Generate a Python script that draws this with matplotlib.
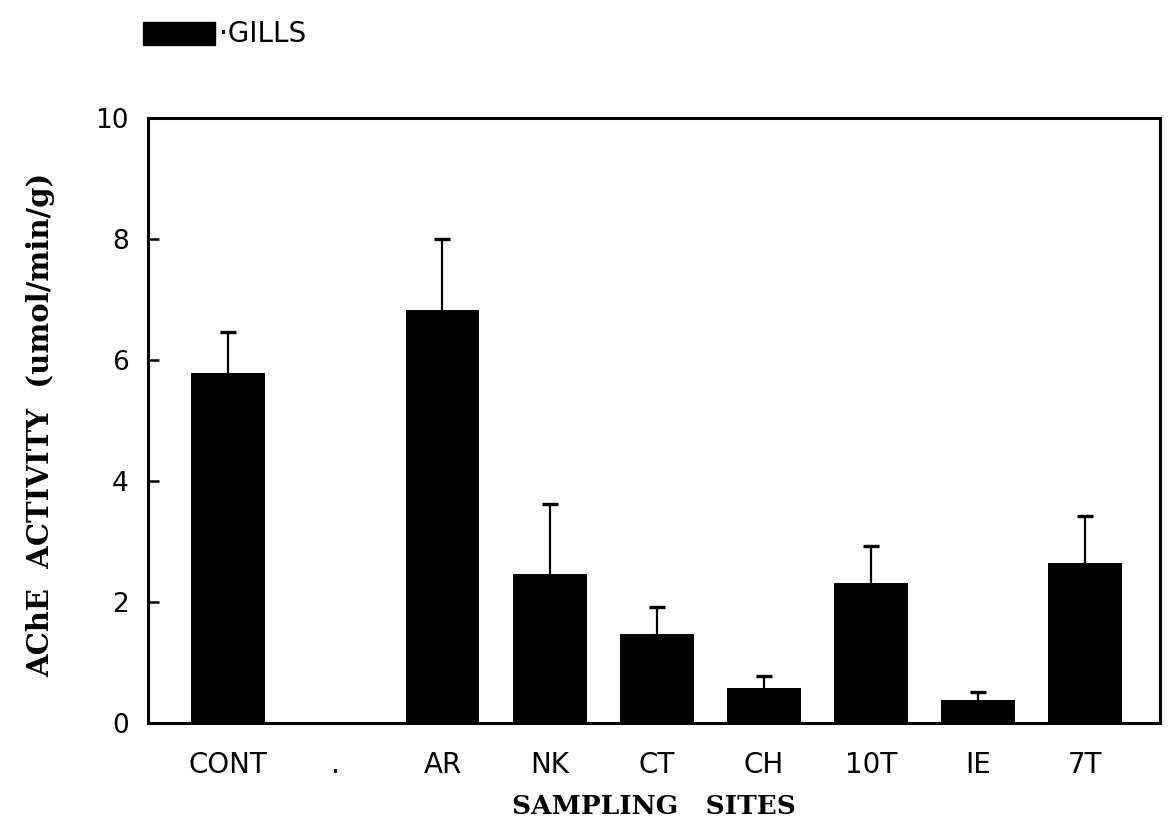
import numpy as np
import matplotlib
matplotlib.use("Agg")
import matplotlib.pyplot as plt
from matplotlib.patches import Rectangle

# data
sites = ["CONT", ".", "AR", "NK", "CT", "CH", "10T", "IE", "7T"]
activity = [5.78, np.nan, 6.82, 2.47, 1.47, 0.58, 2.31, 0.38, 2.64]
err_up = [0.69, np.nan, 1.18, 1.15, 0.45, 0.20, 0.62, 0.14, 0.78]

fig = plt.figure(figsize=(11.69, 8.21), dpi=100)
ax = fig.add_axes([0.1266, 0.1194, 0.8657, 0.7369])

x = np.arange(len(sites))
ax.bar(x, activity, width=0.69, color="black", zorder=2)
err_lo = [0] * len(sites)
eb = ax.errorbar(x, activity, yerr=[err_lo, err_up], fmt="none", ecolor="black",
                 elinewidth=1.6, capsize=5.5, capthick=2.4, zorder=1)
# only the upper caps are drawn in the original
eb[1][0].set_visible(False)

ax.set_xlim(-0.75, 8.7)
ax.set_ylim(0, 10)
ax.set_yticks([0, 2, 4, 6, 8, 10])
ax.set_xticks(x)
ax.set_xticklabels(sites, family="DejaVu Sans", fontsize=20)
for lab in ax.get_yticklabels():
    lab.set_family("DejaVu Sans")
    lab.set_fontsize(19)
ax.tick_params(axis="y", direction="in", length=8, width=1.8, pad=14)
ax.tick_params(axis="x", length=0, pad=20)
for s in ax.spines.values():
    s.set_linewidth(2.2)

ax.set_xlabel("SAMPLING   SITES", family="DejaVu Serif", fontweight="bold",
              fontsize=19, va="top")
ax.xaxis.set_label_coords(0.5, -0.117)
ax.set_ylabel("AChE  ACTIVITY  (umol/min/g)", family="DejaVu Serif",
              fontweight="bold", fontsize=21, va="center")
ax.yaxis.set_label_coords(-0.106, 0.493)

# legend box at the top left
fig.patches.append(Rectangle((143 / 1169, 1 - 45 / 821), 72 / 1169, 23 / 821,
                             transform=fig.transFigure, color="black"))
fig.text(219 / 1169, 1 - 34 / 821, "\u00b7GILLS", family="DejaVu Sans",
         fontsize=20, va="center", ha="left")

fig.savefig("out.png", dpi=100)
